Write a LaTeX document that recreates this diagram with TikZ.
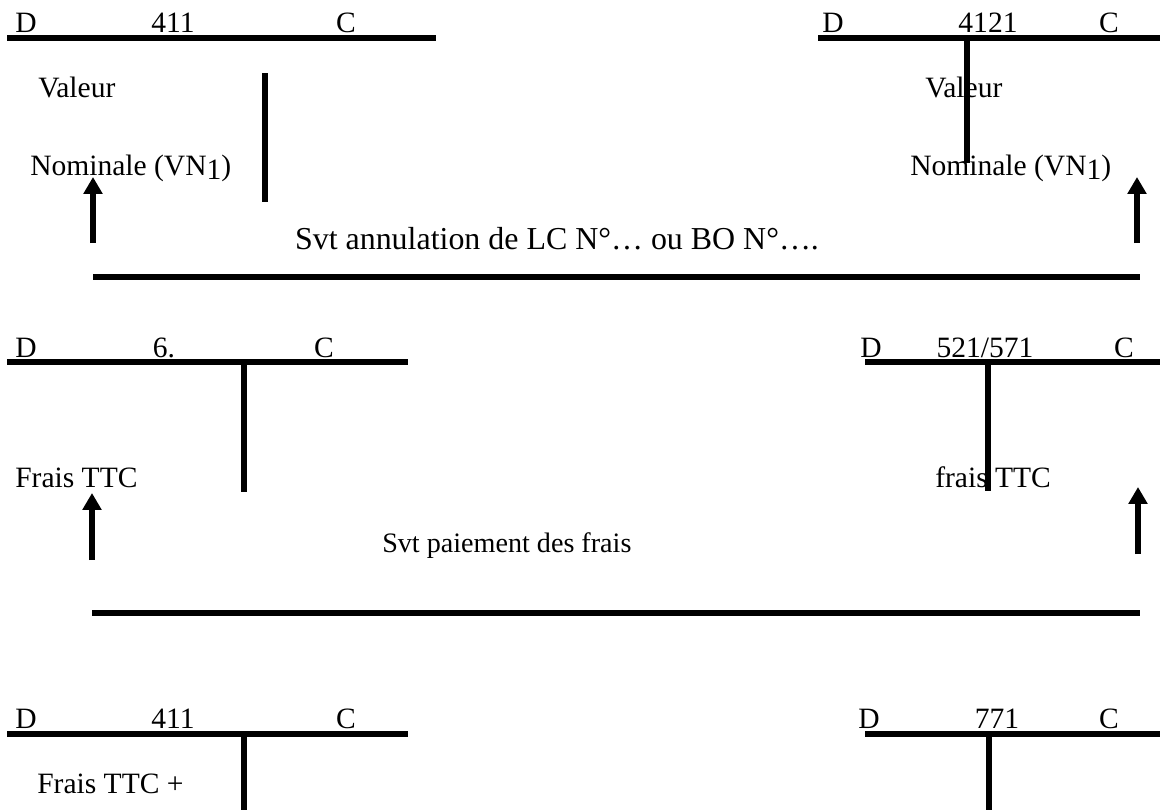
\documentclass[tikz,border=0pt]{standalone}
\usepackage{fontspec}
\setmainfont{Liberation Serif}
\usetikzlibrary{arrows.meta}

\begin{document}
\begin{tikzpicture}[x=0.025cm, y=-0.025cm, >={Triangle[width=13pt,length=12pt]},
    acc/.style={line width=4.3pt},
    up/.style={->, line width=3.6pt},
    txt/.style={font=\fontsize{21}{25}\selectfont, inner sep=0pt, anchor=base west},
    num/.style={txt, anchor=base}]
  \useasboundingbox (0,0) rectangle (1160,810);
  % 411 / 4121
  \draw[acc] (7,38) -- (436,38);
  \draw[acc] (265,73) -- (265,202);
  \node[txt] (d1) at (15,32) {D};
  \node[num] (n1) at (173,32) {411};
  \node[num] (c1) at (346,32) {C};
  \node[txt] (val1) at (38,97) {Valeur};
  \node[txt] (nom1) at (30,175) {Nominale (VN\raisebox{-3pt}{1})};
  \draw[acc] (818,38) -- (1160,38);
  \node[txt] (d2) at (822,32) {D};
  \node[num] (n2) at (988,32) {4121};
  \node[num] (c2) at (1109,32) {C};
  \node[txt] (val2) at (925,97) {Valeur};
  \node[txt] (nom2) at (910,175) {Nominale (VN\raisebox{-3pt}{1})};
  \draw[acc] (967,38) -- (967,163);
  \coordinate (a1) at (93,243);
  \coordinate (b1) at (1137,243);
  \draw[up] (a1) -- ++(0,-66);
  \draw[up] (b1) -- ++(0,-66);
  \node[num, font=\fontsize{22.7}{27}\selectfont] (svt1) at (557,249) {Svt annulation de LC N°… ou BO N°….};
  \draw[acc] (93,277) -- (1140,277);
  % 6. / 521-571
  \draw[acc] (7,362) -- (408,362);
  \draw[acc] (244,362) -- (244,492);
  \node[txt] (d3) at (15,357) {D};
  \node[num] (n3) at (164,357) {6.};
  \node[num] (c3) at (324,357) {C};
  \node[txt] (fr1) at (15,487) {Frais TTC};
  \draw[acc] (865,362) -- (1160,362);
  \draw[acc] (988,362) -- (988,491);
  \node[txt] (d4) at (860,357) {D};
  \node[num] (n4) at (985,357) {521/571};
  \node[num] (c4) at (1124,357) {C};
  \node[txt] (fr2) at (935,487) {frais TTC};
  \coordinate (a2) at (92,560);
  \coordinate (b2) at (1138,554);
  \draw[up] (a2) -- ++(0,-67);
  \draw[up] (b2) -- ++(0,-67);
  \node[txt, font=\fontsize{20}{24}\selectfont] (svt2) at (382,552) {Svt paiement des frais};
  \draw[acc] (92,613) -- (1140,613);
  % 411 / 771
  \draw[acc] (7,734) -- (408,734);
  \draw[acc] (244,734) -- (244,810);
  \node[txt] (d5) at (15,728) {D};
  \node[num] (n5) at (173,728) {411};
  \node[num] (c5) at (346,728) {C};
  \node[txt] (fr3) at (37,793) {Frais TTC +};
  \draw[acc] (865,734) -- (1160,734);
  \draw[acc] (989,734) -- (989,810);
  \node[txt] (d6) at (858,728) {D};
  \node[num] (n6) at (997,728) {771};
  \node[num] (c6) at (1109,728) {C};
\end{tikzpicture}
\end{document}
